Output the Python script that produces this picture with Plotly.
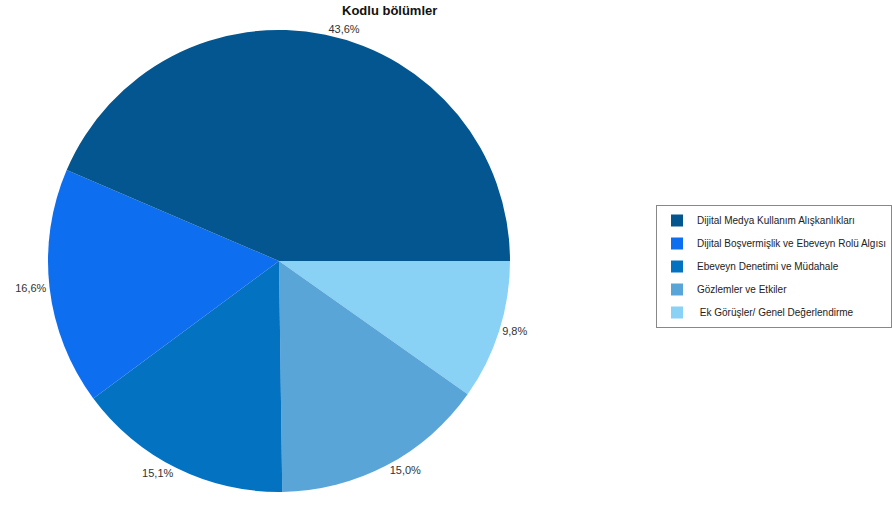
import plotly.graph_objects as go

labels = ["Dijital Medya Kullanım Alışkanlıkları",
          "Dijital Boşvermişlik ve Ebeveyn Rolü Algısı",
          "Ebeveyn Denetimi ve Müdahale",
          "Gözlemler ve Etkiler",
          " Ek Görüşler/ Genel Değerlendirme"]
values = [43.6, 16.6, 15.1, 15.0, 9.8]
pct_text = ["43,6%", "16,6%", "15,1%", "15,0%", "9,8%"]
colors = ["#03568F", "#0E6EF0", "#0372C1", "#5AA5D7", "#89D1F5"]

W, H = 892, 513
cx, cy, r = 279, 261, 231

# slices drawn clockwise from 3 o'clock in reverse order == counterclockwise in data order
fig = go.Figure(go.Pie(
    labels=labels[::-1], values=values[::-1], text=pct_text[::-1],
    textinfo="text", textposition="outside",
    sort=False, direction="clockwise", rotation=90,
    marker=dict(colors=colors[::-1], line=dict(width=0)),
    textfont=dict(family="Liberation Sans, Arial", size=11, color="#333333"),
    hoverinfo="label+text", showlegend=False,
    domain=dict(x=[(cx - r) / W, (cx + r) / W],
                y=[(H - cy - r) / H, (H - cy + r) / H]),
))

# legend entries in data order
for lab, col in zip(labels, colors):
    fig.add_trace(go.Scatter(
        x=[None], y=[None], mode="markers", name=lab, legendgroup=lab,
        marker=dict(symbol="square", size=12, color=col),
        hoverinfo="skip",
    ))

fig.update_layout(
    width=W, height=H,
    margin=dict(l=0, r=0, t=0, b=0, autoexpand=False),
    paper_bgcolor="white", plot_bgcolor="white",
    xaxis=dict(visible=False), yaxis=dict(visible=False),
    showlegend=True,
    legend=dict(x=1.0, y=1 - 205 / H, xanchor="right", yanchor="top",
                bordercolor="#888888", borderwidth=1,
                font=dict(family="Liberation Sans, Arial", size=10, color="#222222"),
                tracegroupgap=4, itemsizing="constant"),
    annotations=[dict(text="<b>Kodlu bölümler</b>", x=389 / W, y=1 - 11 / H,
                      xref="paper", yref="paper", xanchor="center", yanchor="middle",
                      showarrow=False,
                      font=dict(family="Liberation Sans, Arial", size=13, color="#111111"))],
)

fig.write_html("out.html", config={"displayModeBar": False},
               post_script="document.body.style.margin='0';")
